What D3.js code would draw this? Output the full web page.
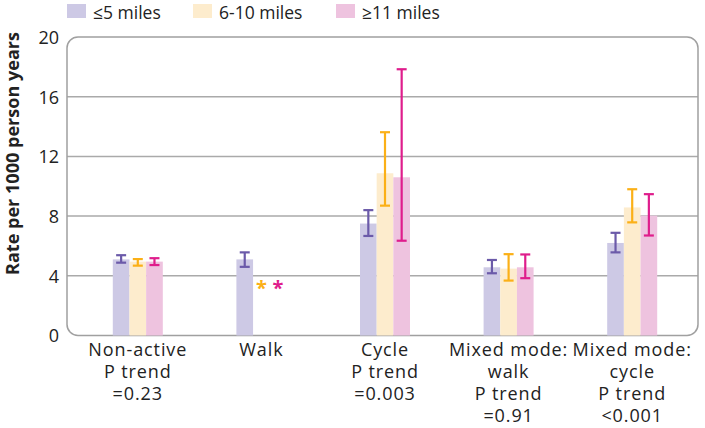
<!DOCTYPE html>
<html><head><meta charset="utf-8">
<script src="https://cdn.jsdelivr.net/npm/d3@7"></script>
<style>
body{margin:0;background:#fff;}
text{font-family:"Open Sans", sans-serif;}
</style></head>
<body><svg id="chart" width="705" height="428"></svg>
<script>
const categories = [
  ["Non-active","P trend","=0.23"],
  ["Walk"],
  ["Cycle","P trend","=0.003"],
  ["Mixed mode:","walk","P trend","=0.91"],
  ["Mixed mode:","cycle","P trend","<0.001"]
];
const seriesNames = ["\u22645 miles","6-10 miles","\u226511 miles"];
const rateLe5   = [5.1, 5.1, 7.5, 4.57, 6.2];
const lowLe5    = [4.88, 4.6, 6.67, 4.17, 5.57];
const highLe5   = [5.38, 5.57, 8.4, 5.06, 6.88];
const rate6to10 = [4.95, null, 10.87, 4.48, 8.58];
const low6to10  = [4.68, null, 8.7, 3.68, 7.58];
const high6to10 = [5.12, null, 13.62, 5.45, 9.8];
const rateGe11  = [4.95, null, 10.6, 4.57, 8.03];
const lowGe11   = [4.72, null, 6.35, 3.84, 6.7];
const highGe11  = [5.18, null, 17.84, 5.43, 9.47];
const missingMarkerLevel = 3.55;
const yTicks = [0,4,8,12,16,20];
const yTitle = "Rate per 1000 person years";

const barColors = ["#cdc9e5","#fdeccd","#eec3df"];
const errColors = ["#6b5aa9","#fbb017","#df1d8c"];

const series = [
  {rate: rateLe5, low: lowLe5, high: highLe5},
  {rate: rate6to10, low: low6to10, high: high6to10},
  {rate: rateGe11, low: lowGe11, high: highGe11}
];

const svg = d3.select("#chart");
const frame = {left:67, right:698, top:37, bottom:335.5};
const y = d3.scaleLinear().domain([0,20]).range([frame.bottom, frame.top]);
const x = d3.scaleBand().domain(d3.range(categories.length)).range([76, 694]);
const xs = d3.scaleBand().domain(d3.range(3)).range([0, 50]);
const groupOffset = x.bandwidth()/2 - 25;

// gridlines
svg.append("g").selectAll("line").data(yTicks.filter(t=>t>0 && t<20)).join("line")
  .attr("x1", frame.left).attr("x2", frame.right)
  .attr("y1", d=>y(d)).attr("y2", d=>y(d))
  .attr("stroke","#aaaaaa").attr("stroke-width",1.5);

// frame
svg.append("rect").attr("x",frame.left).attr("y",frame.top)
  .attr("width",frame.right-frame.left).attr("height",frame.bottom-frame.top)
  .attr("rx",11).attr("ry",11).attr("fill","none").attr("stroke","#a0a0a0").attr("stroke-width",1.5);

// y axis labels
const yAxis = d3.axisLeft(y).tickValues(yTicks).tickSize(0).tickPadding(0);
const ya = svg.append("g").attr("transform",`translate(59,0)`).call(yAxis);
ya.select(".domain").remove();
ya.selectAll("text").attr("font-size",18).attr("fill","#222").attr("font-family","'Open Sans', sans-serif").attr("dy","0.36em");

svg.append("text").attr("transform","translate(19,153.5) rotate(-90)")
  .attr("text-anchor","middle").attr("font-size",18.5).attr("font-weight","bold").attr("fill","#222")
  .attr("font-family","'Open Sans', sans-serif")
  .attr("textLength",243).attr("lengthAdjust","spacingAndGlyphs")
  .text(yTitle);

// bars
series.forEach((s,si)=>{
  const g = svg.append("g");
  const data = s.rate.map((v,i)=>({i,v,lo:s.low[i],hi:s.high[i]})).filter(d=>d.v!==null);
  g.selectAll("rect").data(data).join("rect")
    .attr("x", d=>x(d.i)+groupOffset+xs(si))
    .attr("width", xs.bandwidth())
    .attr("y", d=>y(d.v)).attr("height", d=>y(0)-y(d.v))
    .attr("fill", barColors[si]);
  const cx = d=>x(d.i)+groupOffset+xs(si)+xs.bandwidth()/2;
  const eg = svg.append("g").attr("stroke",errColors[si]).attr("stroke-width",2.2);
  eg.selectAll("line.v").data(data).join("line").attr("class","v")
    .attr("x1",cx).attr("x2",cx).attr("y1",d=>y(d.hi)).attr("y2",d=>y(d.lo));
  eg.selectAll("line.t").data(data).join("line").attr("class","t")
    .attr("x1",d=>cx(d)-5).attr("x2",d=>cx(d)+5).attr("y1",d=>y(d.hi)).attr("y2",d=>y(d.hi));
  eg.selectAll("line.b").data(data).join("line").attr("class","b")
    .attr("x1",d=>cx(d)-5).attr("x2",d=>cx(d)+5).attr("y1",d=>y(d.lo)).attr("y2",d=>y(d.lo));
  // missing markers
  const missing = s.rate.map((v,i)=>({i,v})).filter(d=>d.v===null);
  svg.append("g").selectAll("text").data(missing).join("text")
    .attr("x", d=>x(d.i)+groupOffset+xs(si)+xs.bandwidth()/2)
    .attr("y", y(missingMarkerLevel)+12)
    .attr("text-anchor","middle").attr("font-size",20).attr("font-weight","bold")
    .attr("fill", errColors[si]).text("*");
});

// x labels (one text per line)
const xl = svg.append("g");
categories.forEach((lines,i)=>{
  lines.forEach((ln,k)=>{
    xl.append("text").attr("text-anchor","middle").attr("font-size",18)
      .attr("font-family","'Liberation Sans', Arial, sans-serif").attr("letter-spacing",0.9)
      .attr("fill","#222")
      .attr("x", x(i)+x.bandwidth()/2).attr("y", 356 + k*22).text(ln);
  });
});

// legend
const legX = [67, 193, 336];
const lg = svg.append("g");
seriesNames.forEach((n,i)=>{
  lg.append("rect").attr("x",legX[i]).attr("y",4).attr("width",19).attr("height",14).attr("fill",barColors[i]);
  lg.append("text").attr("x",legX[i]+26).attr("y",19).attr("font-size",17.5).attr("fill","#222").text(n);
});
</script></body></html>
